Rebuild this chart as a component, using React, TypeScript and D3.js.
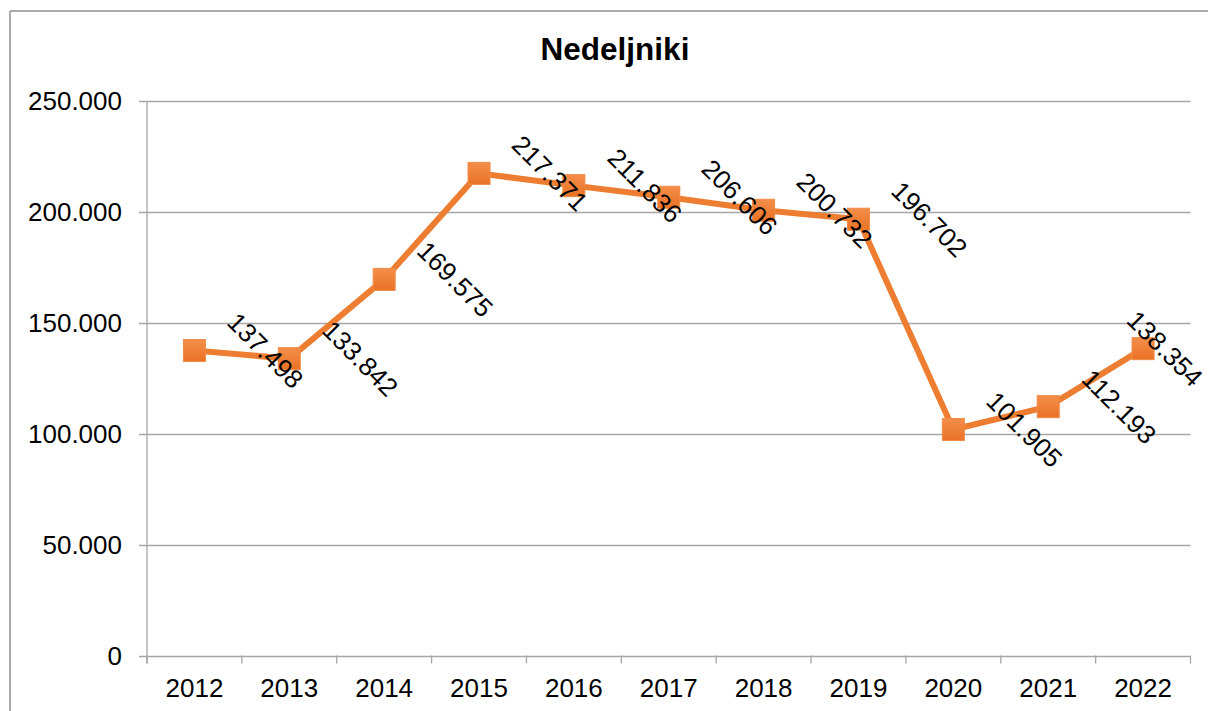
import React from 'react';
import * as d3 from 'd3';

const years = ['2012', '2013', '2014', '2015', '2016', '2017', '2018', '2019', '2020', '2021', '2022'];
const values = [137498, 133842, 169575, 217371, 211836, 206606, 200732, 196702, 101905, 112193, 138354];
const yTicks = [0, 50000, 100000, 150000, 200000, 250000];
const title = 'Nedeljniki';

const width = 1208;
const height = 711;
const plot = { left: 147, right: 1190.5, top: 101, bottom: 655.5 };
const font = 'Arial, "Liberation Sans", sans-serif';
const orange = '#ED7D31';
const grid = '#A6A6A6';

const fmt = d3.formatLocale({ decimal: ',', thousands: '.', grouping: [3], currency: ['', ''] }).format(',');

const App = () => {
  const x = d3.scaleBand<string>().domain(years).range([plot.left, plot.right]).padding(0);
  const y = d3.scaleLinear().domain([0, 250000]).range([plot.bottom, plot.top]);
  const cx = (yr: string) => (x(yr) as number) + x.bandwidth() / 2;

  const line = d3
    .line<number>()
    .x((_, i) => cx(years[i]))
    .y(d => y(d));

  const boundaries = years.map(yr => x(yr) as number).concat([plot.right]);
  const marker = 22;

  return (
    <svg
      width={width}
      height={height}
      style={{ position: 'absolute', left: 0, top: 0, background: '#fff' }}
      fontFamily={font}
    >
      <defs>
        <linearGradient id="mk" x1="0" y1="0" x2="0" y2="1">
          <stop offset="0" stopColor="#F48E4A" />
          <stop offset="1" stopColor="#EA7225" />
        </linearGradient>
      </defs>
      <rect x={0} y={0} width={width} height={height} fill="#fff" />
      {/* chart frame */}
      <line x1={10} y1={11} x2={width} y2={11} stroke="#AAAAAA" strokeWidth={2} />
      <line x1={10} y1={11} x2={10} y2={height} stroke="#AAAAAA" strokeWidth={2} />

      <text x={615} y={60} textAnchor="middle" fontSize={31.5} fontWeight="bold">
        {title}
      </text>

      {/* gridlines + y labels */}
      {yTicks.map(t => (
        <g key={t}>
          <line x1={139} x2={plot.right} y1={Math.round(y(t)) + 0.5} y2={Math.round(y(t)) + 0.5} stroke={grid} strokeWidth={1.3} />
          <text x={122} y={y(t)} dy="0.35em" textAnchor="end" fontSize={26}>
            {fmt(t)}
          </text>
        </g>
      ))}

      {/* axes */}
      <line x1={plot.left} x2={plot.left} y1={plot.top} y2={plot.bottom + 8} stroke={grid} strokeWidth={1.3} />
      {boundaries.map((bx, i) => (
        <line key={i} x1={bx} x2={bx} y1={plot.bottom} y2={plot.bottom + 8} stroke={grid} strokeWidth={1.3} />
      ))}
      {years.map(yr => (
        <text key={yr} x={cx(yr)} y={697} textAnchor="middle" fontSize={26}>
          {yr}
        </text>
      ))}

      {/* series */}
      <path d={line(values) || ''} fill="none" stroke={orange} strokeWidth={6} strokeLinejoin="round" />
      {values.map((v, i) => (
        <rect
          key={years[i]}
          x={cx(years[i]) - marker / 2}
          y={y(v) - marker / 2}
          width={marker}
          height={marker}
          fill="url(#mk)"
          stroke="#F08A45"
          strokeWidth={1}
        />
      ))}
      {values.map((v, i) => (
        <text
          key={'l' + years[i]}
          transform={`translate(${Math.min(cx(years[i]) + 71, width - 43)},${y(v)}) rotate(45)`}
          textAnchor="middle"
          dy="0.35em"
          fontSize={26}
        >
          {fmt(v)}
        </text>
      ))}
    </svg>
  );
};

export default App;
